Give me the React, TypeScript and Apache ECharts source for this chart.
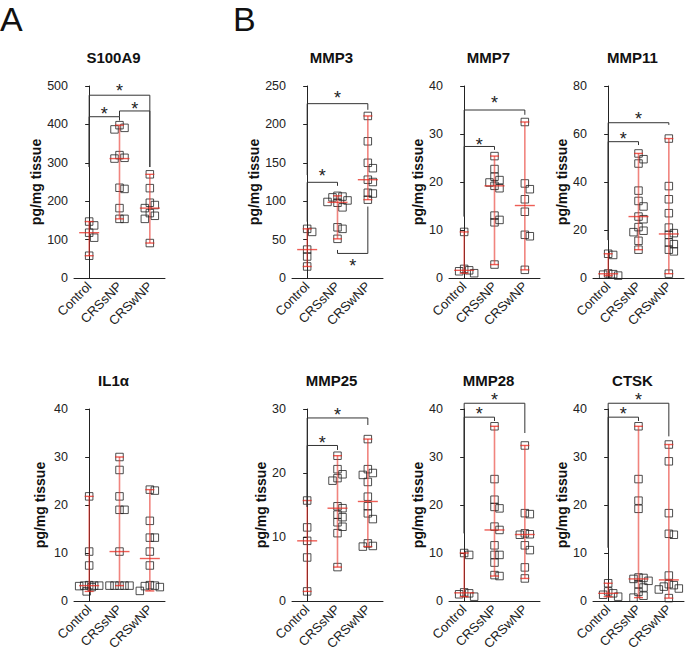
import React, { useEffect, useRef } from 'react';
import * as echarts from 'echarts';

const groups = ['Control', 'CRSsNP', 'CRSwNP'];
const panelTitles = ['S100A9', 'MMP3', 'MMP7', 'MMP11', 'IL1α', 'MMP25', 'MMP28', 'CTSK'];
const yMax = [500, 250, 40, 80, 40, 30, 40, 40];
const yStep = [100, 50, 10, 20, 10, 10, 10, 10];
const yName = 'pg/mg tissue';

const S100A9 = [
  [147, 137, 118, 105, 58],
  [398, 391, 387, 320, 313, 311, 235, 232, 182, 154, 154],
  [270, 234, 196, 190, 182, 169, 162, 154, 91],
];
const MMP3 = [
  [64, 60, 37, 28, 15],
  [107, 106, 105, 101, 99, 98, 92, 66, 64, 51],
  [211, 178, 150, 143, 128, 125, 111, 110, 102],
];
const MMP7 = [
  [9.6, 1.9, 1.6, 1.4, 1.0],
  [25.4, 22.7, 21.1, 20.4, 19.9, 19.2, 18.7, 13.0, 12.1, 11.6, 2.8],
  [32.5, 19.7, 18.5, 16.4, 13.8, 9.0, 8.7, 1.7],
];
const MMP11 = [
  [10.1, 9.6, 1.9, 1.6, 1.4, 1.0],
  [51.9, 49.5, 47.7, 36.4, 32.1, 29.8, 25.6, 24.5, 21.2, 19.7, 19.1, 15.5, 11.8],
  [58.1, 38.3, 32.8, 27.0, 21.0, 18.7, 18.0, 14.8, 14.1, 11.8, 11.1, 1.8],
];
const IL1A = [
  [21.8, 10.3, 7.4, 3.3, 3.2, 3.2, 3.2, 3.1, 2.9, 2.0],
  [30.0, 27.3, 21.8, 19.0, 19.0, 10.3, 3.2, 3.2, 3.2, 3.2, 3.2],
  [23.2, 23.0, 16.7, 13.2, 13.2, 10.3, 7.4, 3.3, 3.2, 3.1, 2.9, 2.1],
];
const MMP25 = [
  [15.7, 11.5, 9.4, 6.8, 1.5],
  [22.7, 20.6, 19.8, 19.2, 18.8, 14.8, 14.5, 13.5, 13.1, 12.3, 11.6, 10.6, 5.3],
  [25.3, 20.6, 20.0, 19.7, 18.6, 16.3, 14.8, 13.7, 12.8, 9.0, 8.6, 8.5],
];
const MMP28 = [
  [10.0, 9.6, 1.8, 1.6, 1.4, 0.9],
  [36.4, 25.4, 21.1, 19.6, 19.3, 15.5, 14.8, 11.6, 9.6, 9.6, 8.0, 5.4, 5.2],
  [32.4, 18.3, 18.1, 14.1, 13.9, 13.8, 11.6, 10.6, 7.0, 4.7],
];
const CTSK = [
  [3.7, 2.0, 1.6, 1.3, 0.9],
  [36.4, 25.4, 20.9, 19.2, 4.9, 4.8, 4.6, 4.2, 3.5, 2.8, 1.9, 1.1, 0.7],
  [32.6, 29.1, 18.3, 14.0, 13.8, 5.3, 3.5, 3.3, 3.0, 2.6, 2.4, 0.6],
];
const panelData = [S100A9, MMP3, MMP7, MMP11, IL1A, MMP25, MMP28, CTSK];

// significance brackets: [fromGroup, toGroup, barValue, leftLegEnd, rightLegEnd, starValue]
const S100A9_sig = [[0, 2, 476, 289, 289, 497], [0, 1, 420, 289, 410, 437], [1, 2, 435, 420, 289, 450]];
const MMP3_sig = [[0, 2, 227, 134, 219, 240], [0, 1, 124.6, 73.3, 120, 138], [1, 2, 32, 36.5, 93, 21]];
const MMP7_sig = [[0, 2, 35, 12.8, 34, 37.2], [0, 1, 27.4, 12.8, 26.7, 28.6]];
const MMP11_sig = [[0, 2, 64.7, 15.8, 63.8, 67.9], [0, 1, 56.8, 15.8, 55.4, 59.6]];
const IL1A_sig: number[][] = [];
const MMP25_sig = [[0, 2, 28.6, 14.7, 27.5, 29.7], [0, 1, 24.3, 14.7, 23.6, 25.3]];
const MMP28_sig = [[0, 2, 41.2, 14.1, 35, 42.7], [0, 1, 38.3, 14.1, 37.5, 39.8]];
const CTSK_sig = [[0, 2, 41.2, 11.1, 34.3, 42.7], [0, 1, 38.3, 11.1, 37.5, 39.8]];
const panelSig = [S100A9_sig, MMP3_sig, MMP7_sig, MMP11_sig, IL1A_sig, MMP25_sig, MMP28_sig, CTSK_sig];

const FONT = '"Liberation Sans", Arial, Helvetica, sans-serif';
const colLeft = [74, 292, 449, 593];
const rowTop = [86, 409];
const GRID_W = 91;
const GRID_H = 192;
const nameGaps = [30, 30, 23, 19, 27, 22, 23, 19];

function median(a: number[]) {
  const s = [...a].sort((x, y) => x - y);
  const n = s.length;
  return n % 2 ? s[(n - 1) / 2] : (s[n / 2 - 1] + s[n / 2]) / 2;
}

// beeswarm-like spreading of points (in pixels), computed from the data
function spread(vals: number[], pxPerUnit: number): number[] {
  const order = vals.map((_, i) => i).sort((a, b) => vals[b] - vals[a]);
  const placed: { x: number; y: number }[] = [];
  const res = new Array(vals.length).fill(0);
  const cands = [0, 5, -5, 10, -10];
  for (const i of order) {
    const y = vals[i] * pxPerUnit;
    let chosen: number | null = null;
    for (const c of cands) {
      if (placed.every((p) => Math.abs(p.x - c) >= 5 || Math.abs(p.y - y) >= 6.5)) {
        chosen = c;
        break;
      }
    }
    if (chosen === null) {
      let best = 0;
      let bestD = -1;
      for (const c of [2.5, -2.5, 7.5, -7.5, 0]) {
        const d = Math.min(...placed.map((p) => Math.hypot(p.x - c, p.y - y)));
        if (d > bestD) {
          bestD = d;
          best = c;
        }
      }
      chosen = best;
    }
    placed.push({ x: chosen, y });
    res[i] = chosen;
  }
  return res;
}

function buildOption() {
  const grid: any[] = [];
  const xAxis: any[] = [];
  const yAxis: any[] = [];
  const series: any[] = [];
  const graphic: any[] = [];
  const pxPerCat = GRID_W / 3;

  panelData.forEach((groupsVals, p) => {
    const left = colLeft[p % 4];
    const top = rowTop[Math.floor(p / 4)];
    grid.push({ left, top, width: GRID_W, height: GRID_H, outerBoundsMode: 'none', containLabel: false });
    xAxis.push({
      type: 'category',
      gridIndex: p,
      data: groups,
      axisLine: { lineStyle: { color: '#222', width: 1 } },
      axisTick: { alignWithLabel: true, length: 4, lineStyle: { color: '#222' } },
      axisLabel: { rotate: 45, fontSize: 13, color: '#222', margin: 6, fontFamily: FONT },
      splitLine: { show: false },
    });
    xAxis.push({ type: 'value', gridIndex: p, min: -0.5, max: 2.5, show: false });
    yAxis.push({
      type: 'value',
      gridIndex: p,
      min: 0,
      max: yMax[p],
      interval: yStep[p],
      name: yName,
      nameLocation: 'middle',
      nameRotate: 90,
      nameGap: nameGaps[p],
      nameTextStyle: { fontSize: 14, fontWeight: 'bold', color: '#111', fontFamily: FONT },
      axisLine: { show: true, lineStyle: { color: '#222', width: 1 } },
      axisTick: { show: true, length: 4, lineStyle: { color: '#222' } },
      axisLabel: { fontSize: 12.5, color: '#222', margin: 6, fontFamily: FONT },
      splitLine: { show: false },
    });

    const pxPerUnit = GRID_H / yMax[p];
    const pts: number[][] = [];
    groupsVals.forEach((vals, g) => {
      const offs = spread(vals, pxPerUnit);
      vals.forEach((v, i) => pts.push([g + offs[i] / pxPerCat, v]));
    });
    series.push({
      type: 'scatter',
      xAxisIndex: 2 * p + 1,
      yAxisIndex: p,
      data: pts,
      symbol: 'rect',
      symbolSize: 7.5,
      silent: true,
      z: 2,
      itemStyle: { color: 'rgba(255,255,255,0)', borderColor: '#222', borderWidth: 1 },
    });

    const stats = groupsVals.map((vals, g) => [g, Math.min(...vals), median(vals), Math.max(...vals)]);
    series.push({
      type: 'custom',
      xAxisIndex: 2 * p + 1,
      yAxisIndex: p,
      data: stats,
      silent: true,
      z: 3,
      clip: false,
      renderItem: (params: any, api: any) => {
        const c = api.value(0);
        const lo = api.coord([c, api.value(1)]);
        const md = api.coord([c, api.value(2)]);
        const hi = api.coord([c, api.value(3)]);
        const red = 'rgba(232,40,30,0.75)';
        return {
          type: 'group',
          children: [
            { type: 'line', shape: { x1: lo[0], y1: lo[1], x2: hi[0], y2: hi[1] }, style: { stroke: 'rgba(232,50,40,0.6)', lineWidth: 1.6 } },
            { type: 'line', shape: { x1: hi[0] - 4.5, y1: hi[1], x2: hi[0] + 4.5, y2: hi[1] }, style: { stroke: red, lineWidth: 1.4 } },
            { type: 'line', shape: { x1: lo[0] - 4.5, y1: lo[1], x2: lo[0] + 4.5, y2: lo[1] }, style: { stroke: red, lineWidth: 1.4 } },
            { type: 'line', shape: { x1: md[0] - 10, y1: md[1], x2: md[0] + 10, y2: md[1] }, style: { stroke: red, lineWidth: 1.4 } },
          ],
        };
      },
    });

    if (panelSig[p].length) {
      series.push({
        type: 'custom',
        xAxisIndex: 2 * p + 1,
        yAxisIndex: p,
        data: panelSig[p],
        silent: true,
        z: 4,
        clip: false,
        renderItem: (params: any, api: any) => {
          const x1 = api.value(0), x2 = api.value(1);
          const pL = api.coord([x1, api.value(2)]);
          const pR = api.coord([x2, api.value(2)]);
          const pLe = api.coord([x1, api.value(3)]);
          const pRe = api.coord([x2, api.value(4)]);
          const pS = api.coord([(x1 + x2) / 2, api.value(5)]);
          return {
            type: 'group',
            children: [
              { type: 'polyline', shape: { points: [pLe, pL, pR, pRe] }, style: { stroke: '#333', lineWidth: 1, fill: 'none' } },
              {
                type: 'text',
                x: pS[0],
                y: pS[1] + 4,
                style: { text: '*', fontSize: 18, fontFamily: FONT, fill: '#222', align: 'center', verticalAlign: 'middle' },
              },
            ],
          };
        },
      });
    }

    graphic.push({
      type: 'text',
      x: left + GRID_W / 2 - 6,
      y: top - 29,
      style: { text: panelTitles[p], fontSize: 15, fontWeight: 'bold', fontFamily: FONT, fill: '#111', align: 'center', verticalAlign: 'middle' },
    });
  });

  graphic.push({ type: 'text', x: 0, y: 19, style: { text: 'A', fontSize: 34, fontFamily: FONT, fill: '#111', align: 'left', verticalAlign: 'middle' } });
  graphic.push({ type: 'text', x: 233, y: 19, style: { text: 'B', fontSize: 34, fontFamily: FONT, fill: '#111', align: 'left', verticalAlign: 'middle' } });

  return { animation: false, backgroundColor: '#fff', grid, xAxis, yAxis, series, graphic };
}

export default function App() {
  const ref = useRef<HTMLDivElement>(null);
  useEffect(() => {
    if (!ref.current) return;
    const chart = echarts.init(ref.current, undefined, { renderer: 'svg' });
    chart.setOption(buildOption() as any);
    return () => chart.dispose();
  }, []);
  return <div ref={ref} style={{ position: 'fixed', left: 0, top: 0, width: 685, height: 662 }} />;
}
